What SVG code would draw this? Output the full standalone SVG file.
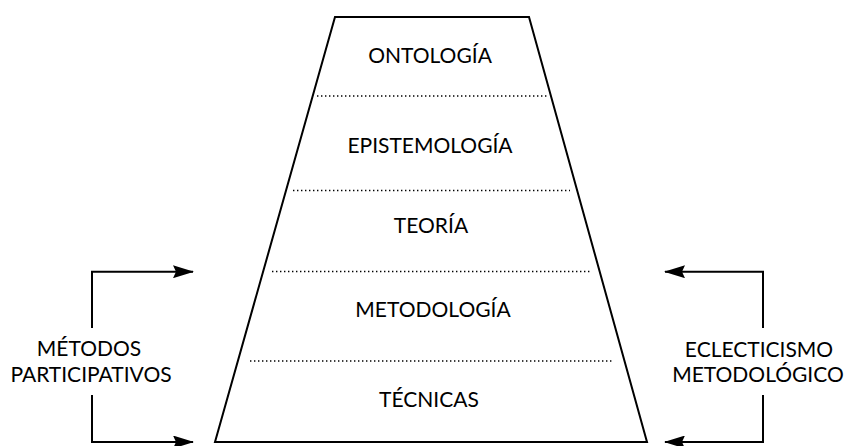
<svg xmlns="http://www.w3.org/2000/svg" width="850" height="446" viewBox="0 0 850 446">
<defs>
<style>
text{font-family:Lato,"Open Sans","DejaVu Sans",sans-serif;font-size:21px;fill:#000;text-anchor:middle}
.edge{fill:none;stroke:#000;stroke-width:2}
.dot{fill:none;stroke:#000;stroke-width:1.4;stroke-dasharray:1.4 2.6}
.conn{fill:none;stroke:#000;stroke-width:2}
</style>
<marker id="arr" viewBox="0 0 21 13" refX="20" refY="6.5" markerWidth="21" markerHeight="13" markerUnits="userSpaceOnUse" orient="auto">
<path d="M0,0 L21,6.5 L0,13 L3,6.5 Z" fill="#000"/>
</marker>
</defs>
<rect width="850" height="446" fill="#fff"/>
<g id="pyramid">
<polygon class="edge" points="335,17 529,17 647,442 215,442"/>
<line class="dot" x1="317" y1="96" x2="547" y2="96"/>
<line class="dot" x1="293" y1="190.5" x2="570" y2="190.5"/>
<line class="dot" x1="272" y1="271.5" x2="590" y2="271.5"/>
<line class="dot" x1="250" y1="361" x2="612" y2="361"/>
</g>
<g id="ontologia"><text x="430" y="62.7">ONTOLOGÍA</text></g>
<g id="epistemologia"><text x="430" y="152.7">EPISTEMOLOGÍA</text></g>
<g id="teoria"><text x="431" y="233">TEORÍA</text></g>
<g id="metodologia"><text x="433" y="316.7">METODOLOGÍA</text></g>
<g id="tecnicas"><text x="429" y="406.7">TÉCNICAS</text></g>
<g id="metodos-participativos">
<text x="89" y="356">MÉTODOS</text>
<text x="91" y="381.7">PARTICIPATIVOS</text>
</g>
<g id="eclecticismo-metodologico">
<text x="759" y="356.7">ECLECTICISMO</text>
<text x="758" y="381.7">METODOLÓGICO</text>
</g>
<g id="connectors">
<path class="conn" d="M92,328 V271.7 H193" marker-end="url(#arr)"/>
<path class="conn" d="M92,395 V442 H193" marker-end="url(#arr)"/>
<path class="conn" d="M763,328 V271.7 H665" marker-end="url(#arr)"/>
<path class="conn" d="M763,395 V442 H665" marker-end="url(#arr)"/>
</g>
</svg>
